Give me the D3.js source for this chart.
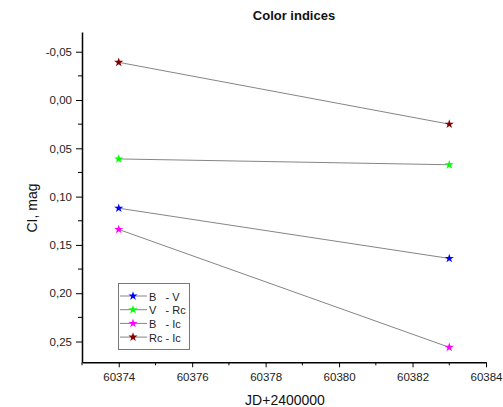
<!DOCTYPE html>
<html>
<head>
<meta charset="utf-8">
<script src="https://cdn.jsdelivr.net/npm/d3@7"></script>
<style>
  html, body { margin: 0; padding: 0; background: #fff; }
  svg { display: block; font-family: Arial, "Liberation Sans", sans-serif; }
</style>
</head>
<body>
<svg id="chart" width="503" height="407"></svg>
<script>
// Observation dates (JD - 2400000)
const dates = [60374, 60383];

// Colour index series
const seriesNames = ["B   - V", "V   - Rc", "B   - Ic", "Rc - Ic"];
const seriesColors = ["#0000ff", "#00ff00", "#ff00ff", "#800000"];
const bv   = [0.112, 0.164];
const vrc  = [0.061, 0.067];
const bic  = [0.134, 0.256];
const rcic = [-0.039, 0.025];

// Axis ticks
const xTicks = [60374, 60376, 60378, 60380, 60382, 60384];
const xMinorTicks = [60373, 60375, 60377, 60379, 60381, 60383];
const yTicks = [-0.05, 0.00, 0.05, 0.10, 0.15, 0.20, 0.25];
const yMinorTicks = [-0.025, 0.025, 0.075, 0.125, 0.175, 0.225];

const series = [bv, vrc, bic, rcic].map((vals, i) => ({
  name: seriesNames[i],
  color: seriesColors[i],
  points: vals.map((v, j) => ({ x: dates[j], y: v }))
}));

const svg = d3.select("#chart");

const x = d3.scaleLinear().domain([60373, 60384]).range([82, 486]);
const y = d3.scaleLinear().domain([-0.0704, 0.2715]).range([32, 362.3]);

const comma = d3.formatLocale({ decimal: ",", thousands: ".", grouping: [3], currency: ["", ""], minus: "-" });
const yFmt = comma.format(".2f");
const xFmt = d3.format("d");

// Title
svg.append("text")
  .attr("x", 294).attr("y", 20)
  .attr("text-anchor", "middle")
  .attr("font-size", 13).attr("font-weight", "bold")
  .attr("fill", "#111")
  .text("Color indices");

// Axes
const xAxis = svg.append("g")
  .attr("transform", `translate(0,${y.range()[1]})`)
  .call(d3.axisBottom(x).tickValues(xTicks).tickFormat(xFmt).tickSize(5).tickPadding(6).tickSizeOuter(0));
xAxis.selectAll(".tick text").attr("font-size", 11.5).attr("fill", "#222");
xAxis.append("g").selectAll("line").data(xMinorTicks).join("line")
  .attr("x1", d => x(d)).attr("x2", d => x(d))
  .attr("y1", 0).attr("y2", 3).attr("stroke", "#000");

const yAxis = svg.append("g")
  .attr("transform", `translate(${x.range()[0]},0)`)
  .call(d3.axisLeft(y).tickValues(yTicks).tickFormat(yFmt).tickSize(6).tickPadding(4).tickSizeOuter(0));
yAxis.selectAll(".tick text").attr("font-size", 11.5).attr("fill", "#222");
yAxis.append("g").selectAll("line").data(yMinorTicks).join("line")
  .attr("y1", d => y(d)).attr("y2", d => y(d))
  .attr("x1", 0).attr("x2", -4).attr("stroke", "#000");

[xAxis, yAxis].forEach(g => {
  g.select(".domain").attr("stroke", "#000").attr("stroke-width", 1.5);
  g.selectAll(".tick line").attr("stroke", "#000");
  g.attr("font-family", null);
});

// Axis titles
svg.append("text")
  .attr("x", 285).attr("y", 405)
  .attr("text-anchor", "middle")
  .attr("font-size", 14).attr("fill", "#111")
  .text("JD+2400000");

svg.append("text")
  .attr("transform", "translate(37,208) rotate(-90)")
  .attr("text-anchor", "middle")
  .attr("font-size", 14).attr("fill", "#111")
  .text("CI, mag");

// Connecting lines and star markers
const line = d3.line().x(d => x(d.x)).y(d => y(d.y));
const star = d3.symbol().type(d3.symbolStar).size(26);

const g = svg.append("g");
series.forEach(s => {
  g.append("path")
    .attr("d", line(s.points))
    .attr("fill", "none")
    .attr("stroke", "#666")
    .attr("stroke-width", 0.8);
});
series.forEach(s => {
  g.selectAll(null).data(s.points).join("path")
    .attr("transform", d => `translate(${x(d.x)},${y(d.y)})`)
    .attr("d", star)
    .attr("fill", s.color);
});

// Legend
const legend = svg.append("g").attr("transform", "translate(118,283)");
legend.append("rect")
  .attr("x", 0.5).attr("y", 0.5).attr("width", 71).attr("height", 66)
  .attr("fill", "#fff").attr("stroke", "#777").attr("stroke-width", 1);
series.forEach((s, i) => {
  const row = legend.append("g").attr("transform", `translate(0,${13 + i * 13.7})`);
  row.append("line")
    .attr("x1", 2).attr("x2", 29).attr("y1", 0).attr("y2", 0)
    .attr("stroke", "#777").attr("stroke-width", 0.9);
  row.append("path").attr("transform", "translate(15,0)").attr("d", star).attr("fill", s.color);
  row.append("text")
    .attr("x", 31).attr("y", 4.5)
    .attr("font-size", 11).attr("fill", "#222")
    .attr("xml:space", "preserve").style("white-space", "pre")
    .text(s.name);
});
</script>
</body>
</html>
